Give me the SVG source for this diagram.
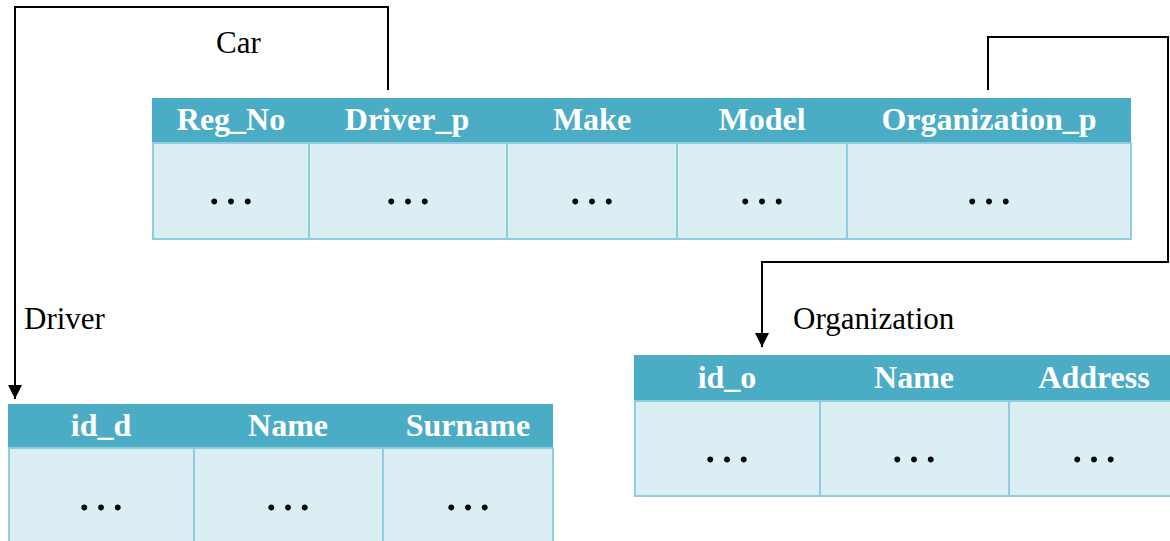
<svg xmlns="http://www.w3.org/2000/svg" width="1170" height="541" viewBox="0 0 1170 541">
<defs>
<style>
.hd{fill:#4BACC6}
.cell{fill:#DAEEF3;stroke:#92CDDC;stroke-width:2}
.ht{font-family:"Liberation Serif","Times New Roman","DejaVu Serif",serif;font-weight:bold;font-size:32px;fill:#fff;text-anchor:middle}
.dt{font-family:"Liberation Serif","Times New Roman","DejaVu Serif",serif;font-size:50px;fill:#000;text-anchor:middle}
.lb{font-family:"Liberation Serif","Times New Roman","DejaVu Serif",serif;font-size:31px;fill:#000}
.cn{fill:none;stroke:#000;stroke-width:2}
</style>
<marker id="ah" markerWidth="14" markerHeight="14" refX="14" refY="7" orient="auto" markerUnits="userSpaceOnUse" viewBox="0 0 14 14">
<path d="M0,0 L14,7 L0,14 Z" fill="#000"/>
</marker>
</defs>
<rect width="1170" height="541" fill="#fff"/>

<g id="car">
<rect class="hd" x="152" y="98" width="979" height="45"/>
<rect class="cell" x="153" y="143" width="156" height="96"/>
<rect class="cell" x="309" y="143" width="198" height="96"/>
<rect class="cell" x="507" y="143" width="170" height="96"/>
<rect class="cell" x="677" y="143" width="170" height="96"/>
<rect class="cell" x="847" y="143" width="284" height="96"/>
<text class="ht" x="231" y="130">Reg_No</text>
<text class="ht" x="407" y="130">Driver_p</text>
<text class="ht" x="592" y="130">Make</text>
<text class="ht" x="762" y="130">Model</text>
<text class="ht" x="989" y="130">Organization_p</text>
<text class="dt" x="231" y="204">…</text>
<text class="dt" x="408" y="204">…</text>
<text class="dt" x="592" y="204">…</text>
<text class="dt" x="762" y="204">…</text>
<text class="dt" x="989" y="204">…</text>
<text class="lb" x="216" y="53">Car</text>
</g>

<g id="driver">
<rect class="hd" x="8" y="404" width="545" height="44"/>
<rect class="cell" x="9" y="448" width="185" height="100"/>
<rect class="cell" x="194" y="448" width="189" height="100"/>
<rect class="cell" x="383" y="448" width="170" height="100"/>
<text class="ht" x="101" y="436">id_d</text>
<text class="ht" x="288" y="436">Name</text>
<text class="ht" x="468" y="436">Surname</text>
<text class="dt" x="101" y="510">…</text>
<text class="dt" x="288" y="510">…</text>
<text class="dt" x="468" y="510">…</text>
<text class="lb" x="24" y="329">Driver</text>
</g>

<g id="organization">
<rect class="hd" x="634" y="355" width="545" height="46"/>
<rect class="cell" x="635" y="401" width="185" height="95"/>
<rect class="cell" x="820" y="401" width="189" height="95"/>
<rect class="cell" x="1009" y="401" width="170" height="95"/>
<text class="ht" x="727" y="388">id_o</text>
<text class="ht" x="914" y="388">Name</text>
<text class="ht" x="1094" y="388">Address</text>
<text class="dt" x="727" y="462">…</text>
<text class="dt" x="914" y="462">…</text>
<text class="dt" x="1094" y="462">…</text>
<text class="lb" x="793" y="329">Organization</text>
</g>

<g id="connectors">
<path class="cn" d="M388,90 V7 H15 V399" marker-end="url(#ah)"/>
<path class="cn" d="M988,90 V37 H1168 V262 H762 V347" marker-end="url(#ah)"/>
</g>
</svg>
